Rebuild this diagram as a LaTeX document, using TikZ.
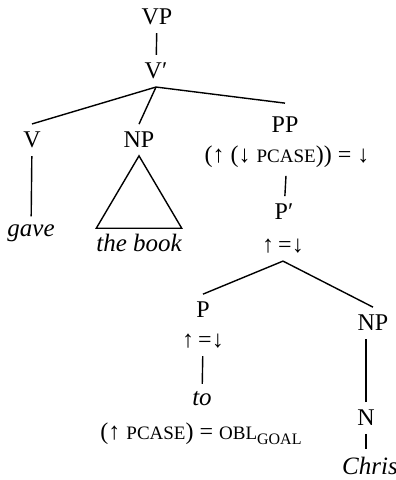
\documentclass[tikz,border=0pt]{standalone}
\usepackage{fontspec}
\setmainfont{Liberation Serif}
\usetikzlibrary{positioning}
\newcommand{\fsc}[1]{{\fontsize{9.5}{11}\selectfont #1}}
\newcommand{\fsub}[1]{\raisebox{-0.4ex}{\fontsize{8}{9}\selectfont #1}}
\begin{document}
\begin{tikzpicture}[x=0.5pt,y=-0.5pt,
  cat/.style={font=\fontsize{12}{14}\selectfont, inner sep=0pt, outer sep=4pt},
  word/.style={font=\fontsize{12.5}{15}\selectfont\itshape, inner sep=0pt, outer sep=4pt},
  feat/.style={font=\fontsize{12}{14}\selectfont, inner sep=0pt, outer sep=4pt},
  branch/.style={line width=0.7pt}]
\useasboundingbox (0,0) rectangle (395,480);

% Upper tree
\node[cat] (vp) at (157,17) {VP};
\node[cat] (vbar) at (156,71) {V′};
\node[cat] (v) at (32,140) {V};
\node[cat] (np) at (139,140) {NP};
\node[cat] (pp) at (285,125) {PP};
\node[feat] (ppf) at (287,157) {(↑ (↓ \fsc{PCASE})) = ↓};
\node[word] (gave) at (31,233) {gave};
\node[word, inner ysep=3pt, outer sep=0pt] (book) at (139,243) {the book};

% PP subtree
\node[cat] (pbar) at (284,212) {P′};
\node[feat] (pbarf) at (283,246) {↑\,=↓};
\node[cat] (p) at (203,310) {P};
\node[feat] (pf) at (203,341) {↑\,=↓};
\node[word] (to) at (202,399) {to};
\node[feat] (tof) at (201,434) {(↑ \fsc{PCASE}) = \fsc{OBL}\fsub{GOAL}};
\node[cat] (np2) at (373,323) {NP};
\node[cat] (n) at (366,418) {N};
\node[word] (chris) at (370,466) {Chris};

% Branches
\draw[branch] (vp) -- (vbar);
\draw[branch] (vbar.south) -- (v.north);
\draw[branch] (vbar.south) -- (np.north);
\draw[branch] (vbar.south) -- ([yshift=3pt]pp.north);
\draw[branch] (v) -- (gave);
\draw[branch] (np.south) -- (book.north west) -- (book.north east) -- cycle;
\draw[branch] (ppf) -- (pbar);
\draw[branch] (pbarf.south) -- (p.north);
\draw[branch] (pbarf.south) -- (np2.north);
\draw[branch] (pf) -- (to);
\draw[branch] (n.north) -- (n.north |- np2.south);
\draw[branch] (n) -- (chris.north -| n);

\end{tikzpicture}
\end{document}
